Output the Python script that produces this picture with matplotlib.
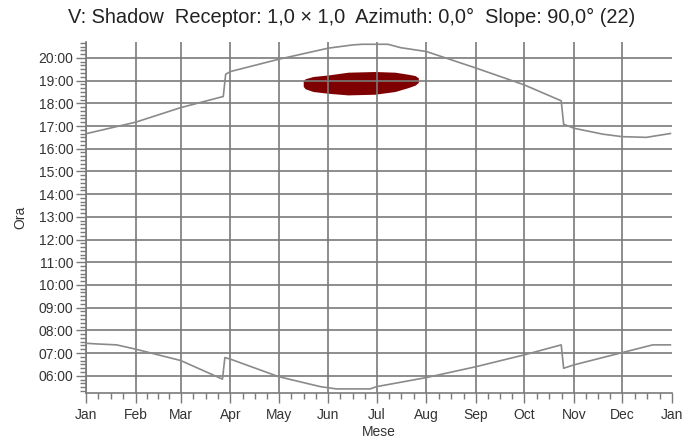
import matplotlib
matplotlib.use("Agg")
import matplotlib.pyplot as plt
import numpy as np
from matplotlib.ticker import FixedLocator, MultipleLocator, FuncFormatter

plt.rcParams['font.family'] = ['Liberation Sans', 'DejaVu Sans']

# ---- data (day of year, hour as decimal) ----
month_labels = ["Jan", "Feb", "Mar", "Apr", "May", "Jun", "Jul", "Aug",
                "Sep", "Oct", "Nov", "Dec", "Jan"]
month_starts = [0, 31, 59, 90, 120, 151, 181, 212, 243, 273, 304, 334, 365]

sunset_days = [0, 31, 59, 85.5, 87, 90, 120, 151, 166, 172, 180, 188, 196, 212,
               243, 273, 296, 297.5, 304, 322, 334, 349, 364]
sunset_hours = [16.66, 17.17, 17.81, 18.30, 19.28, 19.40, 19.94, 20.43, 20.57,
                20.60, 20.60, 20.60, 20.45, 20.28, 19.55, 18.81, 18.11, 17.08,
                16.90, 16.64, 16.53, 16.50, 16.67]

sunrise_days = [0, 7, 19, 31, 59, 85, 86.5, 90, 120, 146, 156, 177, 181,
                212, 243, 273, 296, 297.5, 304, 334, 353, 364]
sunrise_hours = [7.43, 7.40, 7.36, 7.17, 6.67, 5.85, 6.80, 6.73, 5.96, 5.52,
                 5.42, 5.42, 5.52, 5.92, 6.40, 6.92, 7.36, 6.33, 6.48, 7.02,
                 7.36, 7.36]

shadow_days = [135.3, 136.5, 141.4, 151, 163.2, 180, 192.5, 200.6, 205, 207]
shadow_top = [19.00, 19.08, 19.18, 19.25, 19.37, 19.40, 19.37, 19.28, 19.22, 19.12]
shadow_bottom = [18.75, 18.64, 18.52, 18.44, 18.37, 18.40, 18.52, 18.69, 18.80, 18.92]

title = "V: Shadow  Receptor: 1,0 \u00d7 1,0  Azimuth: 0,0\u00b0  Slope: 90,0\u00b0 (22)"

fig = plt.figure(figsize=(6.99, 4.41), dpi=100)
ax = fig.add_axes([86/699, 1 - 393/441, (672-86)/699, (393-42)/441])

grid_c = "#7a7a7a"
line_c = "#8a8a8a"
text_c = "#333333"

ax.fill_between(shadow_days, shadow_bottom, shadow_top, color="#7f0000",
                linewidth=0, zorder=1)

# grid lines
for d in month_starts[:-1]:
    ax.axvline(d, color=grid_c, lw=1.2, zorder=2)
for h in range(6, 21):
    ax.axhline(h, color=grid_c, lw=1.2, zorder=2)

ax.plot(sunset_days, sunset_hours, color=line_c, lw=1.2, zorder=3)
ax.plot(sunrise_days, sunrise_hours, color=line_c, lw=1.2, zorder=3)

ax.set_xlim(0, 365)
ax.set_ylim(5.24, 20.70)

for s in ["top", "right"]:
    ax.spines[s].set_visible(False)
for s in ["left", "bottom"]:
    ax.spines[s].set_color(grid_c)
    ax.spines[s].set_linewidth(1.2)

ax.xaxis.set_major_locator(FixedLocator(month_starts))
ax.set_xticklabels(month_labels)
minor_x = []
for a, b in zip(month_starts[:-1], month_starts[1:]):
    for k in (1, 2, 3):
        minor_x.append(a + (b - a) * k / 4)
ax.xaxis.set_minor_locator(FixedLocator(minor_x))

ax.yaxis.set_major_locator(FixedLocator(list(range(6, 21))))
ax.yaxis.set_major_formatter(FuncFormatter(lambda v, p: f"{int(round(v)):02d}:00"))
ax.yaxis.set_minor_locator(MultipleLocator(1/6))

ax.tick_params(axis="both", which="major", length=7, width=1.0, color=grid_c,
               labelsize=10, labelcolor=text_c, direction="out")
ax.tick_params(axis="both", which="minor", length=4, width=1.0, color=grid_c,
               direction="out")
ax.tick_params(axis="x", which="major", pad=4)
ax.tick_params(axis="y", which="major", pad=2)

ax.set_xlabel("Mese", fontsize=10, color=text_c, labelpad=2)
ax.set_ylabel("Ora", fontsize=10, color=text_c, labelpad=8)

fig.text(352/699, 1 - 17/441, title, ha="center", va="center",
         fontsize=14.4, color="#222222")

fig.savefig("out.png", dpi=100)
